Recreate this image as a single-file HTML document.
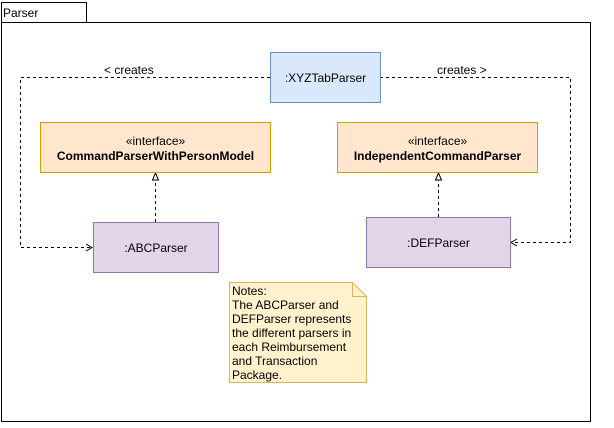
<!DOCTYPE html>
<html><head><style>body{margin:0;background:#fff}</style></head><body>
<svg width="614" height="423" xmlns="http://www.w3.org/2000/svg" font-family="Liberation Sans, sans-serif" font-size="12">
<rect x="1.5" y="2.5" width="85" height="20" fill="#fff" stroke="#000"/>
<text x="3" y="17">Parser</text>
<rect x="1.5" y="22.5" width="589" height="399" fill="none" stroke="#000"/>
<g stroke="#000" fill="none" stroke-dasharray="3,3">
<polyline points="270,77.5 20.5,77.5 20.5,247.5 90,247.5"/>
<polyline points="380,77.5 570.5,77.5 570.5,242.5 513,242.5"/>
<line x1="155.5" y1="222" x2="155.5" y2="180"/>
<line x1="438.5" y1="217" x2="438.5" y2="180"/>
</g>
<g stroke="#000" fill="none">
<polyline points="86,244 92,247.5 86,251"/>
<polyline points="517,239 511,242.5 517,246"/>
</g>
<g stroke="#000" fill="#fff">
<polygon points="155.5,173 152.5,180 158.5,180"/>
<polygon points="438.5,173 435.5,180 441.5,180"/>
</g>
<text x="104" y="74">&lt; creates</text>
<text x="437" y="74">creates &gt;</text>
<rect x="270.5" y="52.5" width="110" height="50" fill="#dae8fc" stroke="#6c8ebf"/>
<text x="325.5" y="82" text-anchor="middle">:XYZTabParser</text>
<rect x="40.5" y="122.5" width="230" height="50" fill="#ffe6cc" stroke="#d79b00"/>
<text x="155.5" y="145" text-anchor="middle">«interface»</text>
<text x="155.5" y="160" text-anchor="middle" font-weight="bold">CommandParserWithPersonModel</text>
<rect x="337.5" y="122.5" width="200" height="50" fill="#ffe6cc" stroke="#d79b00"/>
<text x="437.5" y="145" text-anchor="middle">«interface»</text>
<text x="437.5" y="160" text-anchor="middle" font-weight="bold">IndependentCommandParser</text>
<rect x="93.5" y="222.5" width="125" height="50" fill="#e1d5e7" stroke="#9673a6"/>
<text x="156" y="252" text-anchor="middle">:ABCParser</text>
<rect x="366.5" y="217.5" width="144" height="50" fill="#e1d5e7" stroke="#9673a6"/>
<text x="438.5" y="247" text-anchor="middle">:DEFParser</text>
<path d="M229.5,282.5 H352.5 L366.5,296.5 V382.5 H229.5 Z" fill="#fff2cc" stroke="#d6b656"/>
<path d="M352.5,282.5 V296.5 H366.5" fill="none" stroke="#d6b656"/>
<g fill="#000">
<text x="232" y="295">Notes:</text>
<text x="232" y="309">The ABCParser and</text>
<text x="232" y="323">DEFParser represents</text>
<text x="232" y="337">the different parsers in</text>
<text x="232" y="351">each Reimbursement</text>
<text x="232" y="365">and Transaction</text>
<text x="232" y="379">Package.</text>
</g>
</svg>
</body></html>
